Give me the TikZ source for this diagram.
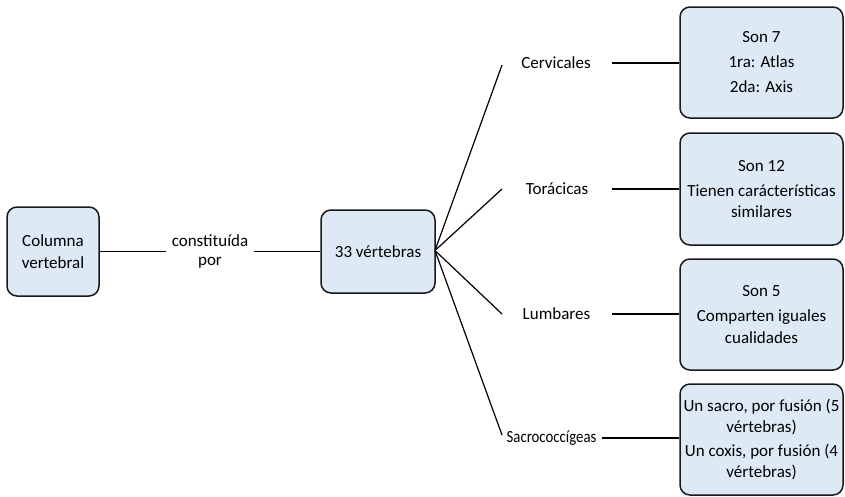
\documentclass[tikz,border=0pt]{standalone}
\usepackage{fontspec}
\usepackage{graphicx}
\setmainfont{Carlito}
\begin{document}
\begin{tikzpicture}[x=1pt,y=-1pt,
  box/.style={draw=black!90, line width=1.5pt, rounded corners=10pt,
    fill=boxblue, align=center, inner sep=0pt, font=\fontsize{17}{21.5}\selectfont},
  lbl/.style={inner sep=0pt, align=center, font=\fontsize{17}{19}\selectfont},
  conn/.style={line width=1.2pt, black}]
\definecolor{boxblue}{RGB}{222,233,246}
\useasboundingbox (0,0) rectangle (845,496);

% main concept and its link phrase
\node[box, minimum width=92pt, minimum height=89pt] (col) at (53,251.5) {Columna\\vertebral};
\node[lbl] (cp) at (210,251) {constituída\\por};
\node[box, minimum width=114pt, minimum height=83pt] (v) at (378,251.5) {33 vértebras};

\coordinate (cpl) at (166,251.5);
\coordinate (cpr) at (254,251.5);
\draw[conn] (col.east) -- (cpl);
\draw[conn] (cpr) -- (v.west);

% the four regions
\node[lbl] (cer) at (556,63) {Cervicales};
\node[lbl] (tor) at (557,189) {Torácicas};
\node[lbl] (lum) at (556.5,314) {Lumbares};
\node[lbl] (sac) at (551.5,438) {\scalebox{0.87}[1]{Sacrococcígeas}};

\coordinate (f1) at (502,65);
\coordinate (f2) at (502,189);
\coordinate (f3) at (502,314);
\coordinate (f4) at (502,435);
\coordinate (o) at (435,250.5);
\foreach \f in {f1,f2,f3,f4} \draw[conn] (o) -- (\f);

% description boxes
\node[box, minimum width=163pt, minimum height=111pt] (b1) at (761.5,62.5)
  {Son 7\\[3.5pt]1ra: Atlas\\[3.5pt]2da: Axis};
\node[box, minimum width=163pt, minimum height=112pt] (b2) at (761.5,189)
  {Son 12\\[3.5pt]Tienen carácterísticas\\similares};
\node[box, minimum width=163pt, minimum height=111pt] (b3) at (761.5,314.5)
  {Son 5\\[3.5pt]Comparten iguales\\cualidades};
\node[box, minimum width=163pt, minimum height=111pt] (b4) at (761.5,439.5)
  {Un sacro, por fusión (5\\vértebras)\\[2pt]Un coxis, por fusión (4\\vértebras)};

\coordinate (c1) at (612,63);
\coordinate (c2) at (612,189);
\coordinate (c3) at (612,314);
\coordinate (c4) at (602,438);
\draw[conn] (c1) -- (b1.west |- c1);
\draw[conn] (c2) -- (b2.west |- c2);
\draw[conn] (c3) -- (b3.west |- c3);
\draw[conn] (c4) -- (b4.west |- c4);
\end{tikzpicture}
\end{document}
